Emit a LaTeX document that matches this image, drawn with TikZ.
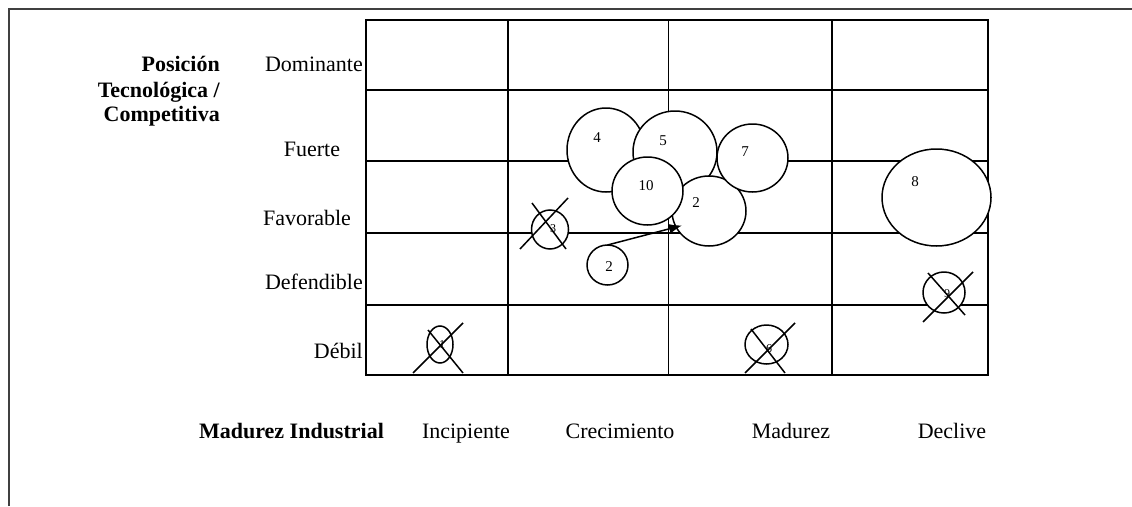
\documentclass[tikz,border=0pt]{standalone}
\usepackage{fontspec}
\setmainfont{Liberation Serif}
\usetikzlibrary{shapes.geometric,arrows.meta}
\begin{document}
\begin{tikzpicture}[x=1pt,y=-1pt,
  frame/.style={line width=1.6pt, black!75},
  gridline/.style={line width=2.2pt, black, line cap=rect},
  thinline/.style={line width=0.9pt, black},
  bub/.style={ellipse, draw, fill=white, line width=1.5pt, inner sep=0pt, outer sep=0pt},
  xline/.style={line width=1.5pt},
  num/.style={font=\fontsize{15}{17}\selectfont, inner sep=0pt},
  numsm/.style={font=\fontsize{12}{14}\selectfont, inner sep=0pt},
  lbl/.style={font=\fontsize{22}{26}\selectfont, inner sep=0pt},
  ttl/.style={font=\fontsize{22}{26}\selectfont\bfseries, inner sep=0pt},
]
\useasboundingbox (0,0) rectangle (1132,506);
% outer frame
\coordinate (fa) at (9,506);
\coordinate (fb) at (9,9);
\coordinate (fc) at (1132,9);
\draw[frame] (fa) -- (fb) -- (fc);
% grid
\draw[thinline] (668,20) -- (668,375);
\foreach \x in {366,508,832,988} \draw[gridline] (\x,20) -- (\x,375);
\foreach \y in {20,90,161,233,305,375} \draw[gridline] (366,\y) -- (988,\y);
% bubbles
\node[bub, minimum width=78pt, minimum height=84pt] (b4) at (606,150) {};
\node[bub, minimum width=84pt, minimum height=82pt] (b5) at (675,152) {};
\node[bub, minimum width=74pt, minimum height=70pt] (b2) at (709,211) {};
\node[bub, minimum width=71pt, minimum height=68pt] (b10) at (647.5,191) {};
\node[bub, minimum width=71pt, minimum height=68pt] (b7) at (752.5,158) {};
\node[bub, minimum width=109pt, minimum height=97pt] (b8) at (936.5,197.5) {};
\node[bub, minimum width=41pt, minimum height=40pt] (s2) at (607.5,265) {};
% crossed bubbles
\node[bub, minimum width=37pt, minimum height=39pt] (x3) at (550,229.5) {};
\node[bub, minimum width=26pt, minimum height=37pt] (x1) at (440,344.5) {};
\node[bub, minimum width=43pt, minimum height=39pt] (x6) at (766.5,344.5) {};
\node[bub, minimum width=42pt, minimum height=41pt] (x9) at (944,292.5) {};
\node[numsm] (n3) at (553,229) {3};
\node[numsm] (n1) at (442,345) {1};
\node[numsm] (n6) at (769,349) {6};
\node[numsm] (n9) at (947,294) {9};
\draw[xline] (520,249) -- (568,198);
\draw[xline] (532,203) -- (566,249);
\draw[xline] (413,373) -- (463,323);
\draw[xline] (428,330) -- (463,373);
\draw[xline] (745,373) -- (795,323);
\draw[xline] (751,329) -- (785,373);
\draw[xline] (923,322) -- (973,272);
\draw[xline] (928,273) -- (965,315);
% bubble labels
\node[num] (n4) at (597,138) {4};
\node[num] (n5) at (663,141) {5};
\node[num] (n7) at (745,152) {7};
\node[num] (n10) at (646,186) {10};
\node[num] (n2) at (696,203) {2};
\node[num] (n8) at (915,182) {8};
\node[num] (ns2) at (609,267) {2};
% arrow
\coordinate (tip) at (682,225.5);
\draw[line width=1.5pt, -{Latex[length=13pt,width=10pt]}] (s2.north) -- (tip);
% axis titles
\node[ttl, anchor=base east] (t1) at (220,71) {Posición};
\node[ttl, anchor=base east] (t2) at (220,97) {Tecnológica /};
\node[ttl, anchor=base east] (t3) at (220,121) {Competitiva};
\node[ttl, anchor=base] (t4) at (291.5,438) {Madurez Industrial};
% row labels
\node[lbl, anchor=base east] (r1) at (363,71) {Dominante};
\node[lbl, anchor=base] (r2) at (312,156) {Fuerte};
\node[lbl, anchor=base] (r3) at (307,225) {Favorable};
\node[lbl, anchor=base east] (r4) at (363,289) {Defendible};
\node[lbl, anchor=base east] (r5) at (363,358) {Débil};
% column labels
\node[lbl, anchor=base] (c1) at (466,438) {Incipiente};
\node[lbl, anchor=base] (c2) at (620,438) {Crecimiento};
\node[lbl, anchor=base] (c3) at (791,438) {Madurez};
\node[lbl, anchor=base] (c4) at (952,438) {Declive};
\end{tikzpicture}
\end{document}
